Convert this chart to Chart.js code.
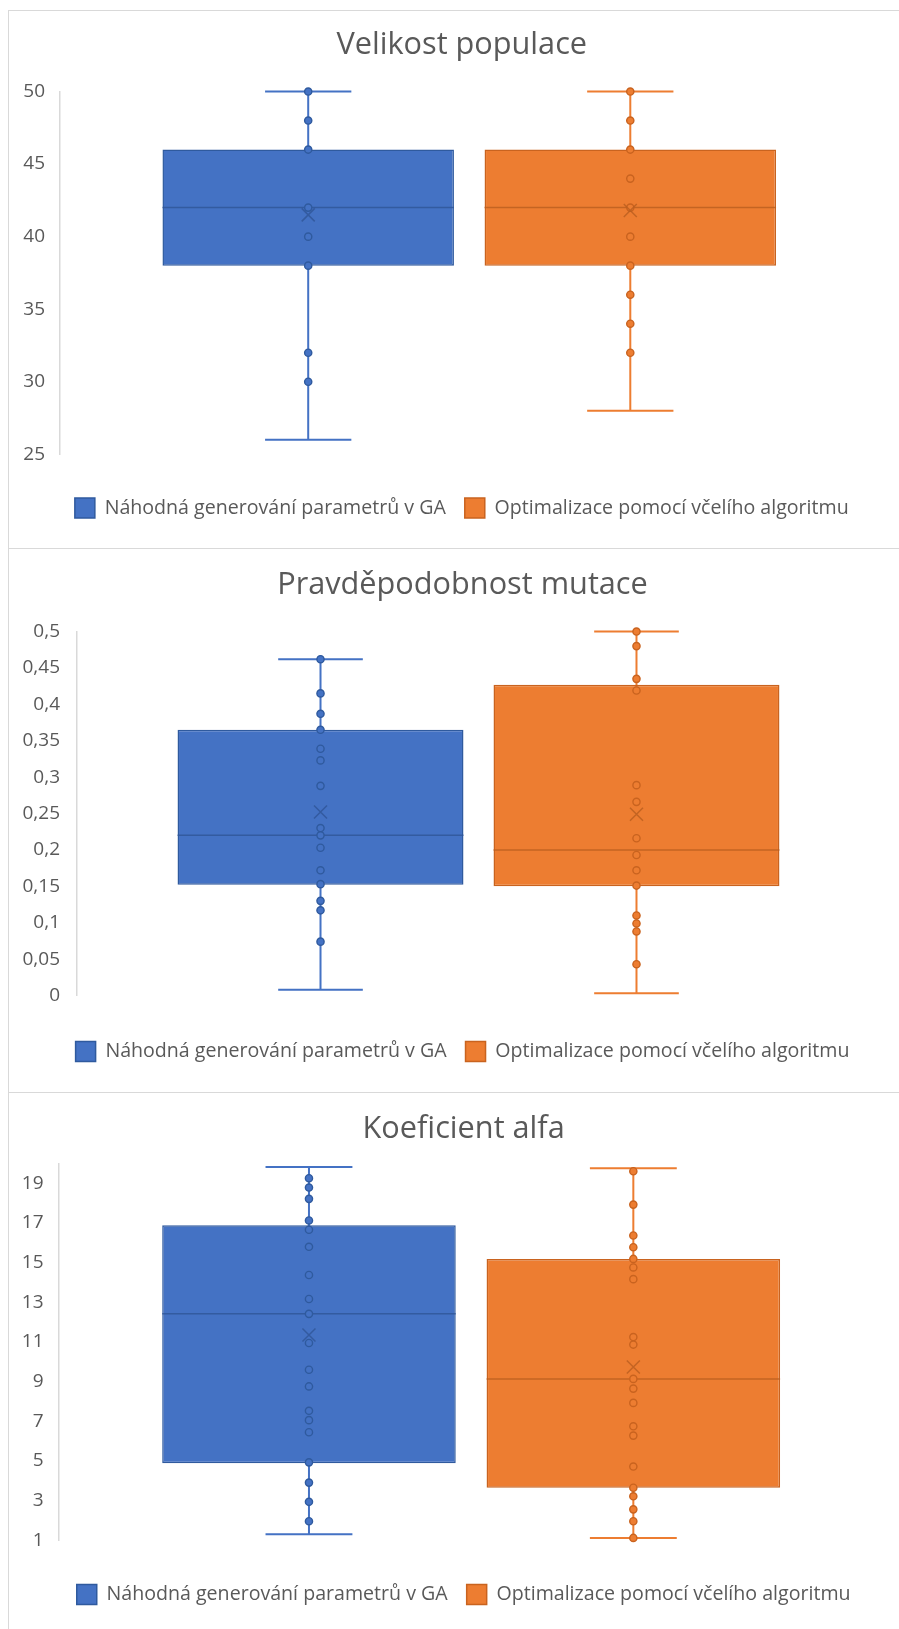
<!DOCTYPE html>
<html>
<head>
<meta charset="utf-8">
<script src="https://cdn.jsdelivr.net/npm/chart.js@4.4.1/dist/chart.umd.min.js"></script>
<style>
  html, body { margin: 0; padding: 0; background: #ffffff; }
  body { width: 899px; height: 1629px; position: relative; overflow: hidden; }
  .ramec { position: absolute; left: 8px; width: 960px; border: 1px solid #d9d9d9; box-sizing: border-box; }
  canvas { position: absolute; left: 0; }
</style>
</head>
<body>
<div class="ramec" style="top:10px;height:539px"></div>
<div class="ramec" style="top:548px;height:545px"></div>
<div class="ramec" style="top:1092px;height:560px"></div>
<canvas id="graf1" width="899" height="538" style="top:10px"></canvas>
<canvas id="graf2" width="899" height="543" style="top:549px"></canvas>
<canvas id="graf3" width="899" height="536" style="top:1093px"></canvas>
<script>
// Skupiny (série) společné pro všechny tři grafy
const skupiny = ['Náhodná generování parametrů v GA', 'Optimalizace pomocí včelího algoritmu'];

// Velikost populace
const popMin = [26, 28];
const popQ1 = [38, 38];
const popMedian = [42, 42];
const popQ3 = [46, 46];
const popMax = [50, 50];
const popPrumer = [41.5, 41.8];
const popBodyGA = [50, 48, 46, 42, 40, 38, 32, 30];
const popBodyVcely = [50, 48, 46, 44, 42, 40, 38, 36, 34, 32];
const popTicks = [25, 30, 35, 40, 45, 50];

// Pravděpodobnost mutace
const mutMin = [0.008, 0.003];
const mutQ1 = [0.152, 0.150];
const mutMedian = [0.22, 0.20];
const mutQ3 = [0.365, 0.427];
const mutMax = [0.462, 0.50];
const mutPrumer = [0.252, 0.249];
const mutBodyGA = [0.462, 0.415, 0.387, 0.365, 0.339, 0.323, 0.288, 0.230, 0.22, 0.203, 0.172, 0.153, 0.130, 0.117, 0.074];
const mutBodyVcely = [0.50, 0.48, 0.435, 0.419, 0.289, 0.266, 0.216, 0.193, 0.172, 0.151, 0.110, 0.099, 0.088, 0.043];
const mutTicks = [0, 0.05, 0.1, 0.15, 0.2, 0.25, 0.3, 0.35, 0.4, 0.45, 0.5];

// Koeficient alfa
const alfaMin = [1.3, 1.12];
const alfaQ1 = [4.89, 3.65];
const alfaMedian = [12.42, 9.14];
const alfaQ3 = [16.89, 15.19];
const alfaMax = [19.83, 19.76];
const alfaPrumer = [11.35, 9.74];
const alfaBodyGA = [19.26, 18.79, 18.22, 17.13, 16.66, 15.80, 14.38, 13.17, 12.42, 10.95, 9.60, 8.76, 7.53, 7.06, 6.45, 4.93, 3.91, 2.94, 1.96];
const alfaBodyVcely = [19.61, 17.93, 16.37, 15.78, 15.19, 14.76, 14.17, 11.25, 10.87, 9.14, 8.65, 7.93, 6.75, 6.28, 4.72, 3.65, 3.22, 2.56, 1.96, 1.12];
const alfaTicks = [1, 3, 5, 7, 9, 11, 13, 15, 17, 19];

// Barvy sérií
const vyplne = ['#4472C4', '#ED7D31'];
const obrysy = ['#2F5A9E', '#C9631F'];
const tmave = ['#2F5597', '#B95E1F'];
const sedaText = '#595959';
const pismo = '"Open Sans", Lato, sans-serif';

// Vousy, medián, průměr a jednotlivé body krabicového grafu
function krabicovyPlugin(st, posun) {
  return {
    id: 'krabice',
    afterLayout(chart) {
      // titulek a legenda jsou vystředěny na celou plochu rámečku
      [chart.titleBlock, chart.legend].forEach(box => {
        if (box) { box.left += posun; box.right += posun; }
      });
    },
    beforeDatasetsDraw(chart) {
      const ctx = chart.ctx, y = chart.scales.y;
      chart.data.datasets.forEach((ds, i) => {
        const el = chart.getDatasetMeta(i).data[0];
        const cx = el.x, cap = el.width * 0.148;
        const yMax = y.getPixelForValue(st.max[i]);
        const yMin = y.getPixelForValue(st.min[i]);
        ctx.save();
        ctx.strokeStyle = vyplne[i];
        ctx.lineWidth = 2;
        ctx.beginPath();
        ctx.moveTo(cx, yMax); ctx.lineTo(cx, yMin);
        ctx.moveTo(cx - cap, yMax); ctx.lineTo(cx + cap, yMax);
        ctx.moveTo(cx - cap, yMin); ctx.lineTo(cx + cap, yMin);
        ctx.stroke();
        ctx.restore();
      });
    },
    afterDatasetsDraw(chart) {
      const ctx = chart.ctx, y = chart.scales.y;
      chart.data.datasets.forEach((ds, i) => {
        const el = chart.getDatasetMeta(i).data[0];
        const cx = el.x, half = el.width / 2;
        ctx.save();
        // medián
        const yMed = y.getPixelForValue(st.median[i]);
        ctx.strokeStyle = tmave[i];
        ctx.globalAlpha = 0.8;
        ctx.lineWidth = 1.5;
        ctx.beginPath();
        ctx.moveTo(cx - half, yMed); ctx.lineTo(cx + half, yMed);
        ctx.stroke();
        ctx.globalAlpha = 1;
        // body
        st.body[i].forEach(v => {
          const py = y.getPixelForValue(v);
          ctx.beginPath();
          ctx.arc(cx, py, 3.6, 0, Math.PI * 2);
          ctx.fillStyle = vyplne[i];
          ctx.fill();
          ctx.lineWidth = 1.4;
          ctx.strokeStyle = obrysy[i];
          ctx.stroke();
        });
        // průměr (křížek)
        const yAvg = y.getPixelForValue(st.mean[i]);
        const r = 6.5;
        ctx.strokeStyle = tmave[i];
        ctx.globalAlpha = 0.8;
        ctx.lineWidth = 1.5;
        ctx.beginPath();
        ctx.moveTo(cx - r, yAvg - r); ctx.lineTo(cx + r, yAvg + r);
        ctx.moveTo(cx + r, yAvg - r); ctx.lineTo(cx - r, yAvg + r);
        ctx.stroke();
        ctx.restore();
      });
    }
  };
}

function krabicovyGraf(id, nazev, st, osa, rozlozeni) {
  const tickFont = { family: pismo, size: 19 };
  return new Chart(document.getElementById(id), {
    type: 'bar',
    data: {
      labels: [''],
      datasets: skupiny.map((jmeno, i) => ({
        label: jmeno,
        data: [[st.q1[i], st.q3[i]]],
        backgroundColor: vyplne[i],
        borderColor: obrysy[i],
        borderWidth: 1.5,
        borderSkipped: false,
        categoryPercentage: 0.787,
        barPercentage: 0.905
      }))
    },
    options: {
      responsive: false,
      animation: false,
      events: [],
      layout: { padding: { left: 0, top: 0, right: rozlozeni.pravy, bottom: rozlozeni.spodni } },
      plugins: {
        tooltip: { enabled: false },
        title: {
          display: true,
          text: nazev,
          color: sedaText,
          font: { family: pismo, size: 30.7, weight: 'normal', lineHeight: 1.2 },
          padding: { top: rozlozeni.titulHore, bottom: rozlozeni.titulDole }
        },
        legend: {
          position: 'bottom',
          labels: {
            boxWidth: 20,
            boxHeight: 20,
            padding: 19,
            color: sedaText,
            font: { family: pismo, size: 19.6 }
          }
        }
      },
      scales: {
        x: {
          display: true,
          grid: { display: false },
          border: { display: false },
          ticks: { display: false },
          afterFit: s => { s.height = rozlozeni.mezera; }
        },
        y: {
          min: osa.min,
          max: osa.max,
          afterBuildTicks: s => { s.ticks = osa.ticks.map(v => ({ value: v })); },
          afterFit: s => { s.width = rozlozeni.levy; },
          grid: { display: false, drawTicks: false },
          border: { display: true, color: '#d9d9d9', width: 1.5 },
          ticks: {
            padding: rozlozeni.odsazeni,
            color: sedaText,
            font: tickFont,
            callback: v => String(v).replace('.', ',')
          }
        }
      }
    },
    plugins: [krabicovyPlugin(st, rozlozeni.posun)]
  });
}

krabicovyGraf('graf1', 'Velikost populace',
  { min: popMin, q1: popQ1, median: popMedian, q3: popQ3, max: popMax, mean: popPrumer, body: [popBodyGA, popBodyVcely] },
  { min: 25, max: 50, ticks: popTicks },
  { posun: 22.5, levy: 60, pravy: 20.5, spodni: 20, titulHore: 17.1, titulDole: 27.6, mezera: 24.7, odsazeni: 15 });

krabicovyGraf('graf2', 'Pravděpodobnost mutace',
  { min: mutMin, q1: mutQ1, median: mutMedian, q3: mutQ3, max: mutMax, mean: mutPrumer, body: [mutBodyGA, mutBodyVcely] },
  { min: 0, max: 0.5, ticks: mutTicks },
  { posun: 22.5, levy: 77, pravy: 19, spodni: 20.5, titulHore: 18.1, titulDole: 27.6, mezera: 27, odsazeni: 17 });

krabicovyGraf('graf3', 'Koeficient alfa',
  { min: alfaMin, q1: alfaQ1, median: alfaMedian, q3: alfaQ3, max: alfaMax, mean: alfaPrumer, body: [alfaBodyGA, alfaBodyVcely] },
  { min: 1, max: 20, ticks: alfaTicks },
  { posun: 22, levy: 59, pravy: 15.7, spodni: 14.4, titulHore: 18.1, titulDole: 15.6, mezera: 25.3, odsazeni: 15.5 });
</script>
</body>
</html>
